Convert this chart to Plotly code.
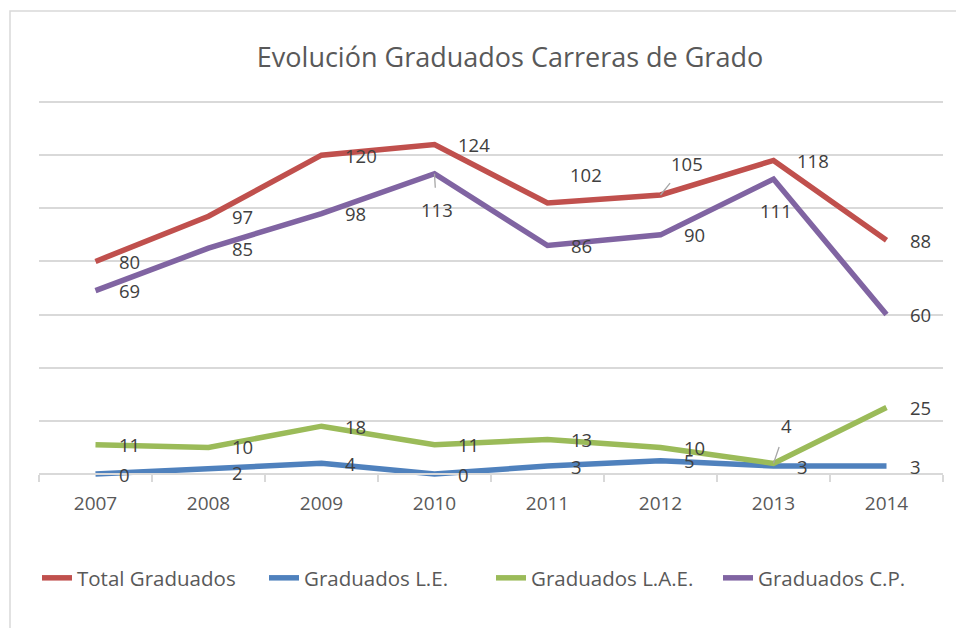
import plotly.graph_objects as go

years = ["2007", "2008", "2009", "2010", "2011", "2012", "2013", "2014"]
total = [80, 97, 120, 124, 102, 105, 118, 88]
le = [0, 2, 4, 0, 3, 5, 3, 3]
lae = [11, 10, 18, 11, 13, 10, 4, 25]
cp = [69, 85, 98, 113, 86, 90, 111, 60]

series = [
    ("Total Graduados", total, "#C0504D"),
    ("Graduados L.E.", le, "#4F81BD"),
    ("Graduados L.A.E.", lae, "#9BBB59"),
    ("Graduados C.P.", cp, "#8064A2"),
]

# label placement overrides: (series, year) -> (dx, dy, anchor, leader)
special = {
    ("Total Graduados", "2011"): (38, -28, "center", False),
    ("Total Graduados", "2012"): (26, -32, "center", True),
    ("Graduados C.P.", "2010"): (2, 36, "center", True),
    ("Graduados C.P.", "2013"): (2, 31, "center", False),
    ("Graduados L.A.E.", "2013"): (13, -38, "center", True),
    ("Graduados L.E.", "2008"): (21, 4, "left", False),
    ("Graduados L.A.E.", "2008"): (21, -1, "left", False),
}

W, H = 956, 628
T, B, L, R = 98, 143, 39, 13
unit = (474 - 102) / 140.0
ptop, pbot = T, H - B
ymin = -(pbot - 474) / unit
ymax = 140 + (102 - ptop) / unit
xpos = (0 - ymin) / (ymax - ymin)

def py(p):
    return (pbot - p) / (pbot - ptop)

def px(p):
    return (p - L) / (W - L - R)

FONT = "Open Sans"
LBL = dict(family=FONT, size=18.5, color="#404040")
fig = go.Figure()
for name, vals, col in series:
    fig.add_trace(go.Scatter(
        x=years, y=vals, name=name, mode="lines",
        line=dict(color=col, width=5.5), cliponaxis=False,
    ))

ann = []
for name, vals, col in series:
    for i, (yr, v) in enumerate(zip(years, vals)):
        dx, dy, anchor, leader = special.get((name, yr), (21, 0, "left", False))
        if leader:
            ann.append(dict(x=i, y=v, xref="x", yref="y", text=str(v),
                            showarrow=True, arrowhead=0, arrowwidth=1.3,
                            arrowcolor="#a6a6a6", ax=dx, ay=dy, standoff=0,
                            startstandoff=8, font=LBL))
        else:
            ann.append(dict(x=i, y=v, xref="x", yref="y", text=str(v),
                            showarrow=False, xanchor=anchor, yanchor="middle",
                            xshift=dx, yshift=-dy, font=LBL))

fig.update_layout(
    width=W, height=H,
    margin=dict(l=L, r=R, t=T, b=B, pad=0),
    paper_bgcolor="white", plot_bgcolor="white",
    title=dict(text="Evolución Graduados Carreras de Grado",
               x=510 / W, xanchor="center", y=1 - 58 / H, yanchor="middle",
               xref="container", yref="container",
               font=dict(family=FONT, size=27, color="#595959")),
    showlegend=True,
    legend=dict(orientation="h", x=0.5, xanchor="center", y=py(578), yanchor="middle",
                font=dict(family=FONT, size=20.5, color="#595959"),
                itemwidth=30, entrywidth=182, tracegroupgap=0,
                bgcolor="rgba(0,0,0,0)"),
    xaxis=dict(type="category", range=[-0.5, 7.5], anchor="free", position=xpos,
               showline=True, linecolor="#d9d9d9", linewidth=1.5,
               ticks="outside", tickson="boundaries", ticklen=7, tickcolor="#d9d9d9",
               tickwidth=1.5, showgrid=False, zeroline=False, ticklabelstandoff=12,
               tickfont=dict(family=FONT, size=19, color="#595959")),
    yaxis=dict(range=[ymin, ymax], tick0=0, dtick=20, showgrid=True,
               gridcolor="#d9d9d9", gridwidth=1.5, showticklabels=False,
               zeroline=False, showline=False, ticks=""),
    annotations=ann,
    shapes=[dict(type="rect", xref="paper", yref="paper",
                 x0=px(10), x1=px(1000), y0=py(700), y1=py(11),
                 line=dict(color="#d9d9d9", width=1.5), fillcolor="rgba(0,0,0,0)",
                 layer="below")],
)

fig.write_html("out.html", config={"displayModeBar": False},
               post_script="document.body.style.margin='0px';")
